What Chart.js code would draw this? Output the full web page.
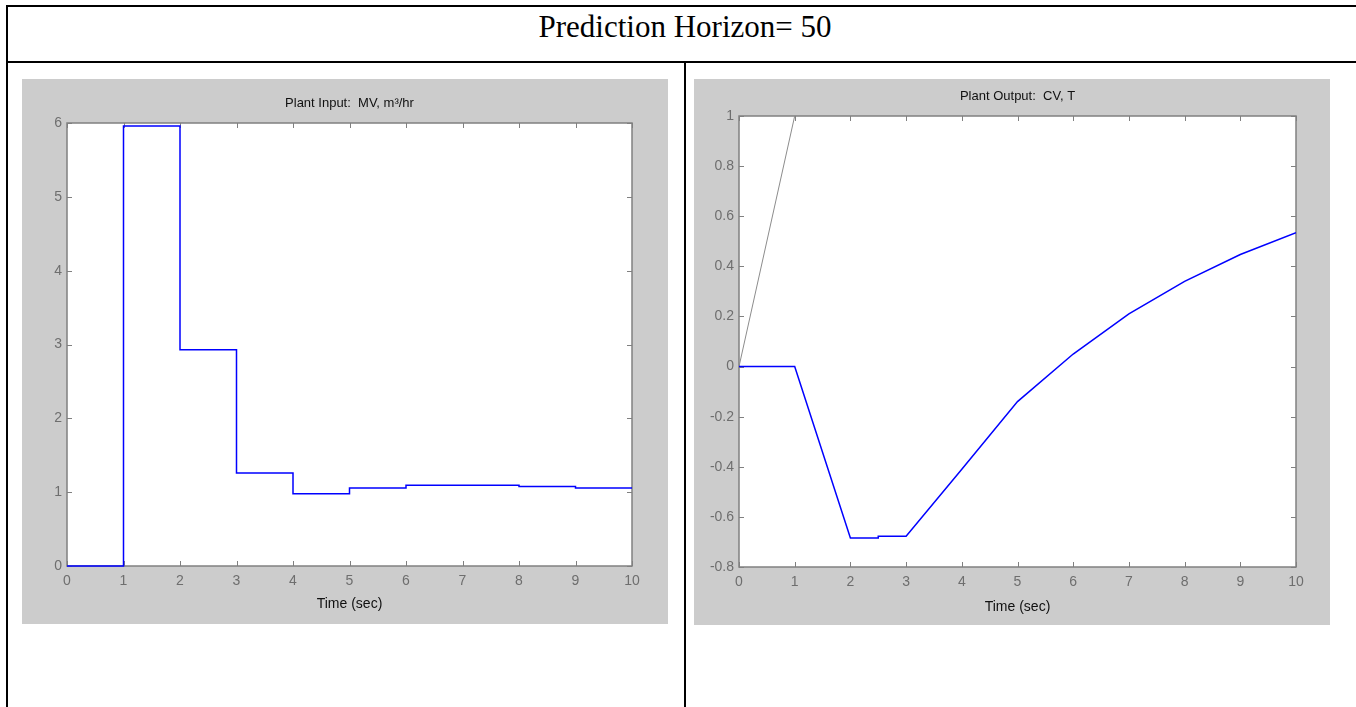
<!DOCTYPE html>
<html>
<head>
<meta charset="utf-8">
<title>Prediction Horizon= 50</title>
<script src="https://cdn.jsdelivr.net/npm/chart.js@4.4.1/dist/chart.umd.min.js"></script>
<style>
  html, body { margin: 0; padding: 0; background: #fff; overflow: hidden; }
  body { width: 1356px; height: 707px; position: relative; }
  .line { position: absolute; background: #000; }
  #header {
    position: absolute; left: 0; top: 6px; width: 1370px; height: 54px;
    line-height: 42px; text-align: center;
    font-family: "Liberation Serif", "Times New Roman", serif; font-size: 31px; color: #000;
  }
  canvas { position: absolute; }
</style>
</head>
<body>
<div class="line" style="left:6px; top:5px; width:1360px; height:2px;"></div>
<div class="line" style="left:6px; top:61px; width:1360px; height:2px;"></div>
<div class="line" style="left:6px; top:5px; width:2px; height:710px;"></div>
<div class="line" style="left:684px; top:61px; width:2px; height:650px;"></div>
<div id="header">Prediction Horizon= 50</div>

<canvas id="inputChart" width="646" height="545" style="left:22px; top:79px;"></canvas>
<canvas id="outputChart" width="636" height="546" style="left:694px; top:79px;"></canvas>

<script>
// manipulated variable (held over each sample)
const mvTime = [0, 1, 2, 3, 4, 5, 6, 7, 8, 9, 10];
const mvValues = [0, 5.96, 2.93, 1.26, 0.98, 1.055, 1.095, 1.095, 1.077, 1.055, 1.055];

// controlled variable
const cvTime = [0, 1, 2, 2.5, 2.5, 3, 4, 5, 6, 7, 8, 9, 10];
const cvValues = [0, 0, -0.684, -0.684, -0.677, -0.677, -0.41, -0.14, 0.05, 0.21, 0.34, 0.447, 0.534];

// setpoint
const spTime = [0, 1];
const spValues = [0, 1];

const xTicks = [0, 1, 2, 3, 4, 5, 6, 7, 8, 9, 10];

const FONT = "'Liberation Sans', Arial, sans-serif";
const toPoints = (xs, ys) => xs.map((x, i) => ({ x, y: ys[i] }));

// gray figure background
const panelBg = {
  id: "panelBg",
  beforeDraw(chart) {
    const ctx = chart.ctx;
    ctx.save();
    ctx.fillStyle = "#cccccc";
    ctx.fillRect(0, 0, chart.width, chart.height);
    const a = chart.chartArea;
    ctx.fillStyle = "#ffffff";
    ctx.fillRect(a.left, a.top, a.right - a.left, a.bottom - a.top);
    ctx.restore();
  }
};

// box + inward ticks on all four sides, matlab style
const axesBox = {
  id: "axesBox",
  beforeDatasetsDraw(chart) {
    const ctx = chart.ctx;
    const a = chart.chartArea;
    const xs = chart.scales.x, ys = chart.scales.y;
    const len = 5;
    ctx.save();
    ctx.strokeStyle = "#808080";
    ctx.lineWidth = 1.5;
    ctx.strokeRect(a.left, a.top, a.right - a.left, a.bottom - a.top);
    ctx.lineWidth = 1;
    ctx.beginPath();
    xs.ticks.forEach(t => {
      const px = Math.round(xs.getPixelForValue(t.value)) + 0.5;
      ctx.moveTo(px, a.bottom); ctx.lineTo(px, a.bottom - len);
      ctx.moveTo(px, a.top); ctx.lineTo(px, a.top + len);
    });
    ys.ticks.forEach(t => {
      const py = Math.round(ys.getPixelForValue(t.value)) + 0.5;
      ctx.moveTo(a.left, py); ctx.lineTo(a.left + len, py);
      ctx.moveTo(a.right, py); ctx.lineTo(a.right - len, py);
    });
    ctx.stroke();
    ctx.restore();
  }
};

function makeOptions(cfg) {
  return {
    responsive: false,
    animation: false,
    devicePixelRatio: 1,
    layout: { padding: { top: 0, right: cfg.padRight, bottom: 0, left: 0 } },
    plugins: {
      legend: { display: false },
      tooltip: { enabled: false },
      title: {
        display: true,
        fullSize: false,
        text: cfg.title,
        color: "#111",
        font: { family: FONT, size: 13, weight: "normal" },
        padding: { top: cfg.titleTop, bottom: cfg.titleBottom }
      }
    },
    scales: {
      x: {
        type: "linear",
        min: 0, max: 10,
        afterBuildTicks: s => { s.ticks = xTicks.map(v => ({ value: v })); },
        afterFit: s => { s.height = cfg.xHeight; },
        grid: { display: false, drawTicks: false },
        border: { display: false },
        ticks: { color: "#6e6e6e", padding: 7, maxRotation: 0, font: { family: FONT, size: 14 } },
        title: {
          display: true, text: "Time (sec)", color: "#111",
          font: { family: FONT, size: 14 },
          padding: { top: 0, bottom: cfg.xTitlePad }
        }
      },
      y: {
        min: cfg.yMin, max: cfg.yMax,
        afterBuildTicks: s => { s.ticks = cfg.yTicks.map(v => ({ value: v })); },
        afterFit: s => { s.width = cfg.yWidth; },
        grid: { display: false, drawTicks: false },
        border: { display: false },
        ticks: {
          color: "#6e6e6e", padding: 5, font: { family: FONT, size: 14 },
          callback: v => String(Math.round(v * 10) / 10)
        }
      }
    }
  };
}

new Chart(document.getElementById("inputChart"), {
  type: "line",
  data: {
    datasets: [{
      data: toPoints(mvTime, mvValues),
      borderColor: "#0000ff",
      borderWidth: 1.5,
      pointRadius: 0,
      stepped: "before",
      clip: 2,
      fill: false
    }]
  },
  options: makeOptions({
    title: "Plant Input:  MV, m\u00b3/hr",
    padRight: 36, titleTop: 17, titleBottom: 11.4,
    xHeight: 58, xTitlePad: 11, yWidth: 45,
    yMin: 0, yMax: 6, yTicks: [0, 1, 2, 3, 4, 5, 6]
  }),
  plugins: [panelBg, axesBox]
});

new Chart(document.getElementById("outputChart"), {
  type: "line",
  data: {
    datasets: [{
      data: toPoints(cvTime, cvValues),
      borderColor: "#0000ff",
      borderWidth: 1.5,
      pointRadius: 0,
      tension: 0,
      fill: false
    }, {
      data: toPoints(spTime, spValues),
      borderColor: "#8c8c8c",
      borderWidth: 1,
      pointRadius: 0,
      fill: false
    }]
  },
  options: makeOptions({
    title: "Plant Output:  CV, T",
    padRight: 34, titleTop: 10, titleBottom: 11.4,
    xHeight: 58, xTitlePad: 9, yWidth: 45,
    yMin: -0.8, yMax: 1, yTicks: [-0.8, -0.6, -0.4, -0.2, 0, 0.2, 0.4, 0.6, 0.8, 1]
  }),
  plugins: [panelBg, axesBox]
});
</script>
</body>
</html>
